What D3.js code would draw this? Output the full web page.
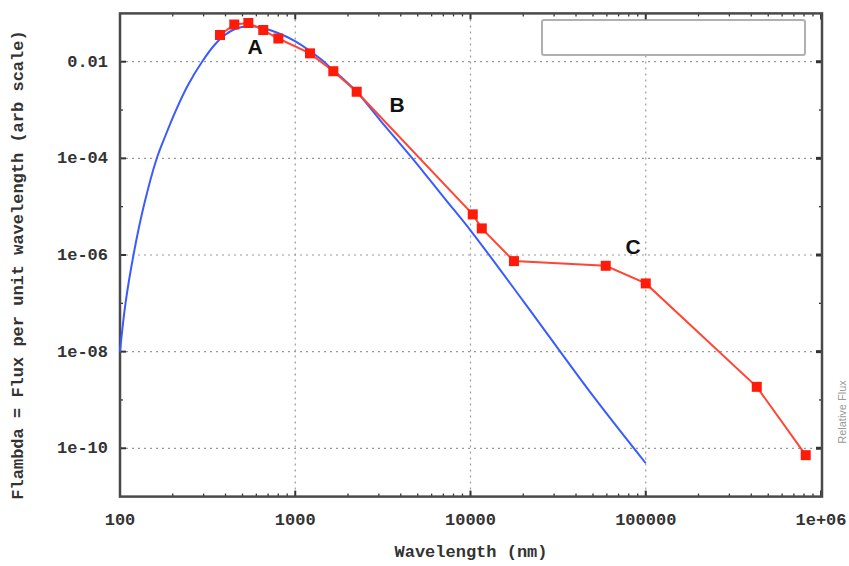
<!DOCTYPE html>
<html>
<head>
<meta charset="utf-8">
<script src="https://cdn.jsdelivr.net/npm/d3@7"></script>
<style>
  body { margin: 0; background: #fff; }
  svg { display: block; }
</style>
</head>
<body>
<div id="chart"></div>
<script>
// model curve (blue)
const modelWavelength = [100, 107.5, 119.4, 136.2, 161.5, 180.6, 207, 244, 294, 348, 397, 453, 517, 589, 672, 797, 997, 1214, 1421, 1642, 1922, 2251, 3045, 4698, 5873, 7248, 10070, 20200, 50660, 100000];
const modelFlux = [1.0e-8, 1.0e-7, 1.0e-6, 9.8e-6, 9.6e-5, 2.8e-4, 9.3e-4, 3.26e-3, 1.0e-2, 2.27e-2, 3.57e-2, 4.75e-2, 5.36e-2, 5.36e-2, 4.87e-2, 3.93e-2, 2.68e-2, 1.67e-2, 1.08e-2, 6.73e-3, 4.08e-3, 2.36e-3, 6.21e-4, 9.67e-5, 3.55e-5, 1.37e-5, 3.13e-6, 1.06e-7, 1.14e-9, 4.9e-11];

// observed points (red)
const obsWavelength = [372, 449, 540, 657, 801, 1214, 1649, 2242, 10300, 11600, 17700, 59100, 100000, 430000, 818000];
const obsFlux = [0.0357, 0.0589, 0.0633, 0.0453, 0.0302, 0.0149, 0.00636, 0.00239, 6.93e-6, 3.55e-6, 7.47e-7, 5.98e-7, 2.58e-7, 1.87e-9, 7.2e-11];

// axis ticks
const xTickValues = [100, 1000, 10000, 100000, 1e6];
const xTickLabels = ["100", "1000", "10000", "100000", "1e+06"];
const yTickValues = [1e-2, 1e-4, 1e-6, 1e-8, 1e-10];
const yTickLabels = ["0.01", "1e-04", "1e-06", "1e-08", "1e-10"];

// annotations
const noteText = ["A", "B", "C"];
const noteWavelength = [589, 3807, 84600];
const noteFlux = [0.0211, 1.33e-3, 1.48e-6];

const width = 849, height = 566;
const pLeft = 120, pRight = 821, pTop = 13.4, pBottom = 496.6;
const font = "'Liberation Mono', 'DejaVu Sans Mono', monospace";

const svg = d3.select('#chart').append('svg')
    .attr('width', width)
    .attr('height', height);

const x = d3.scaleLog().domain([100, 1e6]).range([pLeft, pRight]);
const y = d3.scaleLog().domain([1e-11, 1e-1]).range([pBottom, pTop]);

// grid
const grid = svg.append('g')
    .attr('stroke', '#9a9a9a')
    .attr('stroke-width', 1.2)
    .attr('stroke-dasharray', '2,4');
grid.selectAll('.gy').data(yTickValues).enter().append('line')
    .attr('x1', pLeft).attr('x2', pRight + 1)
    .attr('y1', d => y(d)).attr('y2', d => y(d));
grid.selectAll('.gx').data(xTickValues.slice(1, 4)).enter().append('line')
    .attr('x1', d => x(d)).attr('x2', d => x(d))
    .attr('y1', pTop).attr('y2', pBottom);

// legend box (empty)
svg.append('rect')
    .attr('x', 542).attr('y', 20)
    .attr('width', 263).attr('height', 35)
    .attr('rx', 2)
    .attr('fill', '#fff')
    .attr('stroke', '#b0b0b0')
    .attr('stroke-width', 2);

// minor ticks
const xMinor = [];
for (let e = 2; e < 6; e++) for (let m = 2; m <= 9; m++) xMinor.push(m * Math.pow(10, e));
const yMinor = [1e-3, 1e-5, 1e-7, 1e-9];

const ticks = svg.append('g').attr('stroke', '#333').attr('stroke-width', 1.3);
ticks.selectAll('.xm').data(xMinor).enter().append('line')
    .attr('x1', d => x(d)).attr('x2', d => x(d))
    .attr('y1', pBottom).attr('y2', pBottom - 3);
ticks.selectAll('.xmt').data(xMinor).enter().append('line')
    .attr('x1', d => x(d)).attr('x2', d => x(d))
    .attr('y1', pTop).attr('y2', pTop + 3);
ticks.selectAll('.xM').data(xTickValues).enter().append('line')
    .attr('x1', d => x(d)).attr('x2', d => x(d))
    .attr('y1', pBottom).attr('y2', pBottom - 6).attr('stroke-width', 2);
ticks.selectAll('.xMt').data(xTickValues).enter().append('line')
    .attr('x1', d => x(d)).attr('x2', d => x(d))
    .attr('y1', pTop).attr('y2', pTop + 6).attr('stroke-width', 2);
ticks.selectAll('.ym').data(yMinor).enter().append('line')
    .attr('x1', pLeft).attr('x2', pLeft + 3)
    .attr('y1', d => y(d)).attr('y2', d => y(d));
ticks.selectAll('.ymr').data(yMinor).enter().append('line')
    .attr('x1', pRight + 1).attr('x2', pRight - 2)
    .attr('y1', d => y(d)).attr('y2', d => y(d));
ticks.selectAll('.yM').data(yTickValues).enter().append('line')
    .attr('x1', pLeft).attr('x2', pLeft + 6)
    .attr('y1', d => y(d)).attr('y2', d => y(d)).attr('stroke-width', 2);
ticks.selectAll('.yMr').data(yTickValues).enter().append('line')
    .attr('x1', pRight + 1).attr('x2', pRight - 5)
    .attr('y1', d => y(d)).attr('y2', d => y(d)).attr('stroke-width', 3);

// border
svg.append('rect')
    .attr('x', pLeft).attr('y', pTop)
    .attr('width', pRight - pLeft + 1).attr('height', pBottom - pTop)
    .attr('fill', 'none')
    .attr('stroke', '#4a4a4a')
    .attr('stroke-width', 2.5);

// tick labels
svg.selectAll('.xl').data(xTickValues).enter().append('text')
    .attr('x', d => x(d)).attr('y', pBottom + 28)
    .attr('text-anchor', 'middle')
    .style('font', `bold 17px ${font}`).attr('fill', '#333')
    .text((d, i) => xTickLabels[i]);
svg.selectAll('.yl').data(yTickValues).enter().append('text')
    .attr('x', pLeft - 12).attr('y', d => y(d) + 5)
    .attr('text-anchor', 'end')
    .style('font', `bold 17px ${font}`).attr('fill', '#333')
    .text((d, i) => yTickLabels[i]);

// axis titles
svg.append('text')
    .attr('x', 471).attr('y', 557)
    .attr('text-anchor', 'middle')
    .style('font', `bold 17px ${font}`).attr('fill', '#333')
    .text('Wavelength (nm)');
svg.append('text')
    .attr('transform', 'translate(23,265) rotate(-90)')
    .attr('text-anchor', 'middle')
    .style('font', `bold 17px ${font}`).attr('fill', '#333')
    .text('Flambda = Flux per unit wavelength (arb scale)');

// label belonging to the neighbouring panel
svg.append('text')
    .attr('transform', 'translate(846,412) rotate(-90)')
    .attr('text-anchor', 'middle')
    .style('font', "11px 'Liberation Sans', Arial, sans-serif").attr('fill', '#9a9a9a')
    .text('Relative Flux');

const plot = svg.append('g');

// model curve
const modelData = modelWavelength.map((w, i) => [w, modelFlux[i]]);
plot.append('path')
    .datum(modelData)
    .attr('fill', 'none')
    .attr('stroke', '#3a5cff')
    .attr('stroke-width', 2)
    .attr('d', d3.line().x(d => x(d[0])).y(d => y(d[1])).curve(d3.curveCatmullRom.alpha(0.5)));

// observations
const obsData = obsWavelength.map((w, i) => [w, obsFlux[i]]);
plot.append('path')
    .datum(obsData)
    .attr('fill', 'none')
    .attr('stroke', '#ff4535')
    .attr('stroke-width', 2)
    .attr('d', d3.line().x(d => x(d[0])).y(d => y(d[1])));
plot.selectAll('.pt').data(obsData).enter().append('rect')
    .attr('x', d => x(d[0]) - 5).attr('y', d => y(d[1]) - 5)
    .attr('width', 10).attr('height', 10)
    .attr('fill', '#ff1a0a');

// letters
svg.selectAll('.note').data(noteText).enter().append('text')
    .attr('x', (d, i) => x(noteWavelength[i]))
    .attr('y', (d, i) => y(noteFlux[i]))
    .attr('text-anchor', 'middle')
    .attr('dominant-baseline', 'central')
    .style('font', "bold 21px 'Liberation Sans', Arial, sans-serif")
    .attr('fill', '#111')
    .text(d => d);
</script>
</body>
</html>
